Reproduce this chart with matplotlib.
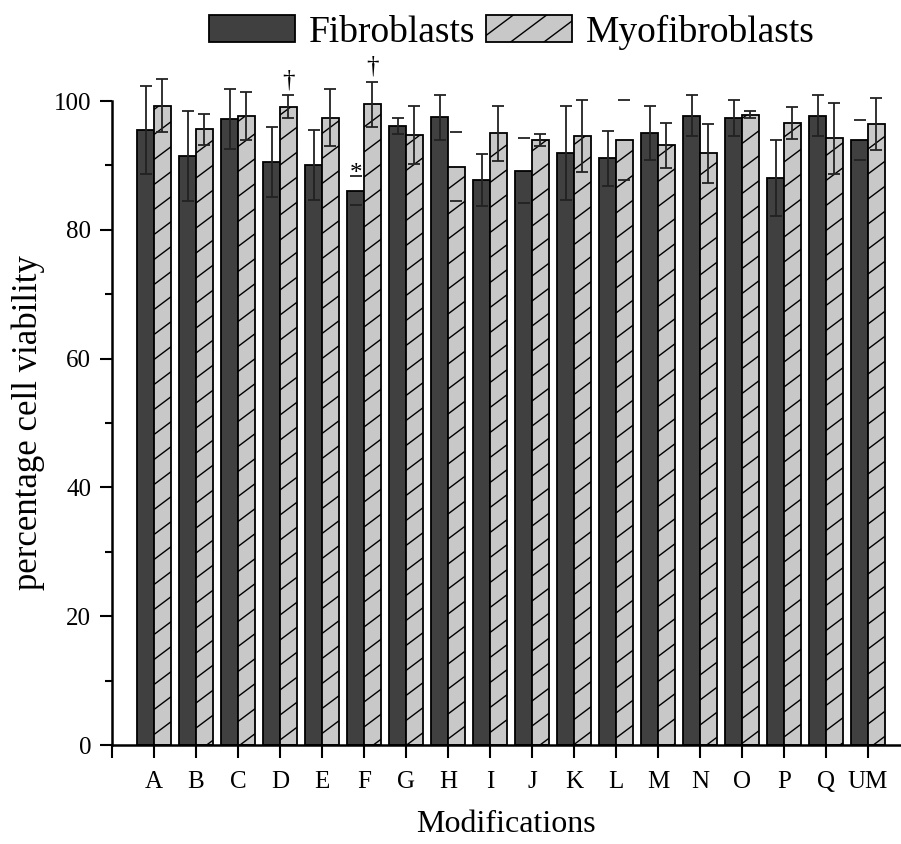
import matplotlib
matplotlib.use("Agg")
import matplotlib.pyplot as plt
import numpy as np
from matplotlib.ticker import MultipleLocator
from matplotlib import hatch as mhatch
from matplotlib.path import Path

plt.rcParams['font.family'] = ['Liberation Serif', 'DejaVu Serif']
plt.rcParams['hatch.linewidth'] = 1.0


class ShallowSlantHatch(mhatch.HatchPatternBase):
    """'/' hatch with slope 3/4 and 4 lines per tile (sparser, flatter)."""
    def __init__(self, hatch, density):
        self.offsets = np.arange(-3, 5) / 4.0 if '/' in hatch else np.array([])
        self.num_lines = len(self.offsets)
        self.num_vertices = self.num_lines * 2

    def set_vertices_and_codes(self, vertices, codes):
        c = self.offsets
        vertices[0::2, 0] = -0.1
        vertices[0::2, 1] = c - 0.075
        vertices[1::2, 0] = 1.1
        vertices[1::2, 1] = c + 0.825
        codes[0::2] = Path.MOVETO
        codes[1::2] = Path.LINETO


mhatch._hatch_types = [ShallowSlantHatch if t is mhatch.NorthEastHatch else t
                       for t in mhatch._hatch_types]

categories = ["A", "B", "C", "D", "E", "F", "G", "H", "I", "J", "K", "L",
              "M", "N", "O", "P", "Q", "UM"]
fibro = [95.5, 91.4, 97.2, 90.5, 90.1, 86.1, 96.1, 97.5, 87.7, 89.2, 91.9, 91.1,
         95.1, 97.7, 97.4, 88.1, 97.7, 93.9]
fibro_err = [6.8, 7.0, 4.7, 5.4, 5.4, 2.2, 1.2, 3.5, 4.0, 5.0, 7.3, 4.3,
             4.2, 3.2, 2.8, 5.9, 3.2, 3.1]
myo = [99.3, 95.6, 97.7, 99.1, 97.4, 99.5, 94.7, 89.8, 95.0, 94.0, 94.5, 94.0,
       93.1, 91.9, 97.9, 96.6, 94.2, 96.4]
myo_err = [4.1, 2.4, 3.7, 1.8, 4.4, 3.5, 4.5, 5.4, 4.3, 0.95, 5.6, 6.2,
           3.5, 4.6, 0.5, 2.5, 5.5, 4.0]
# error-bar stems that are not visible in the original
fibro_stem = [1, 1, 1, 1, 1, 0, 1, 1, 1, 0, 1, 1, 1, 1, 1, 1, 1, 0]
myo_stem = [1, 1, 1, 1, 1, 1, 1, 0, 1, 1, 1, 0, 1, 1, 1, 1, 1, 1]
# significance markers: (category, series, symbol)
markers = [("F", "fibro", "*"), ("D", "myo", "\u2020"), ("F", "myo", "\u2020")]

fig = plt.figure(figsize=(9.01, 8.44), dpi=100)
ax = fig.add_axes([112/901, 99/844, 788/901, 644/844])

x = np.arange(1, len(categories) + 1)
w = 0.4
b1 = ax.bar(x - w/2, fibro, w, color='#404040', edgecolor='black', linewidth=1.3,
            label='Fibroblasts', zorder=2, clip_on=False)
b2 = ax.bar(x + w/2, myo, w, color='#c8c8c8', edgecolor='black', linewidth=1.3,
            hatch='/', label='Myofibroblasts', zorder=2, clip_on=False)


def errs(xs, ys, es, stems):
    pl, caps, cols = ax.errorbar(xs, ys, yerr=es, fmt='none', ecolor='#222222',
                                 elinewidth=1.3, capsize=4.3, capthick=1.3,
                                 zorder=3, clip_on=False)
    for c in cols:
        c.set_colors(['#222222' if s else (0, 0, 0, 0) for s in stems])
        c.set_clip_on(False)
    for c in caps:
        c.set_clip_on(False)


errs(x - w/2, fibro, fibro_err, fibro_stem)
errs(x + w/2, myo, myo_err, myo_stem)

for cat, ser, sym in markers:
    i = categories.index(cat)
    if ser == "fibro":
        xx, top = x[i] - w/2, fibro[i] + fibro_err[i]
    else:
        xx, top = x[i] + w/2, myo[i] + myo_err[i]
    off = -0.5 if sym == "*" else 1.4
    ax.text(xx, top + off, sym, ha='center', va='baseline', fontsize=18,
            clip_on=False, zorder=4)

ax.set_xlim(0, 18.76)
ax.set_ylim(0, 100)
ax.set_xticks(np.arange(0, len(categories) + 1))
ax.set_xticklabels([""] + categories, fontsize=18)
ax.yaxis.set_major_locator(MultipleLocator(20))
ax.yaxis.set_minor_locator(MultipleLocator(10))
ax.tick_params(axis='y', labelsize=18)
ax.tick_params(axis='both', which='major', direction='out', length=9, width=1.5)
ax.tick_params(axis='x', which='major', pad=10)
ax.tick_params(axis='y', which='major', pad=6)
ax.tick_params(axis='y', which='minor', direction='out', length=5, width=1.5)

for s in ['top', 'right']:
    ax.spines[s].set_visible(False)
for s in ['left', 'bottom']:
    ax.spines[s].set_linewidth(1.8)

ax.set_xlabel("Modifications", fontsize=23, labelpad=12)
ax.set_ylabel("percentage cell viability", fontsize=25)
ax.yaxis.set_label_coords((45 - 112) / 788, 0.5)

fig.legend(handles=[b1, b2], loc='center', bbox_to_anchor=(0.568, 0.962),
           ncol=2, frameon=False, fontsize=27, handlelength=2.3,
           handleheight=0.74, handletextpad=0.35, columnspacing=0.3,
           borderpad=0)

fig.savefig("out.png", dpi=100)
